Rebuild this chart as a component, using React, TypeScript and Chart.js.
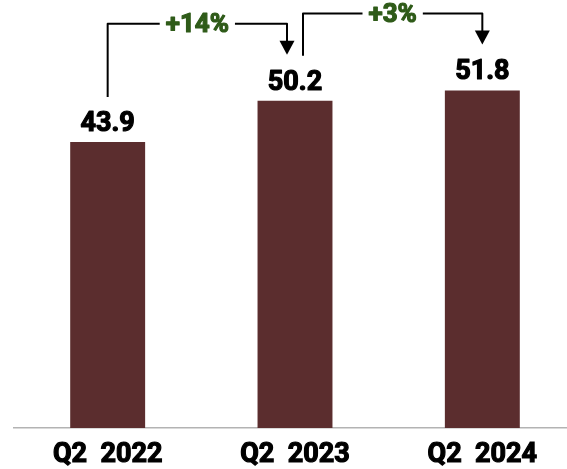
import React, { useEffect, useRef } from "react";
import { Chart, registerables } from "chart.js";

Chart.register(...registerables);

const categories = ["Q2  2022", "Q2  2023", "Q2  2024"];
const values = [43.9, 50.2, 51.8];

const BAR_COLOR = "#5b2d2e";
const GREEN = "#2f5b19";
const FONT = "Roboto, 'Liberation Sans', sans-serif";

const annotPlugin = {
  id: "annot",
  afterDraw(chart: any) {
    const ctx = chart.ctx as CanvasRenderingContext2D;
    const xs = chart.scales.x;
    const ys = chart.scales.y;
    const data = chart.data.datasets[0].data as number[];
    ctx.save();
    // value labels
    ctx.fillStyle = "#000";
    ctx.strokeStyle = "#000";
    ctx.lineWidth = 1.2;
    ctx.lineJoin = "round";
    ctx.font = `bold 27px ${FONT}`;
    ctx.textAlign = "center";
    ctx.textBaseline = "alphabetic";
    data.forEach((v, i) => {
      const x = xs.getPixelForValue(i);
      const y = ys.getPixelForValue(v);
      ctx.fillText(v.toFixed(1), x, y - 11);
      ctx.strokeText(v.toFixed(1), x, y - 11);
    });
    // brackets with growth
    for (let i = 0; i < data.length - 1; i++) {
      const x0 = xs.getPixelForValue(i) + (i > 0 ? 8 : 0);
      const x1 = xs.getPixelForValue(i + 1) - (i + 1 < data.length - 1 ? 8 : 0);
      const y0 = ys.getPixelForValue(data[i]) - 45;
      const yNext = ys.getPixelForValue(data[i + 1]);
      const yTop = yNext - 77;
      const yTip = yNext - 46;
      const pct = Math.round((data[i + 1] / data[i] - 1) * 100);
      const label = `+${pct}%`;
      ctx.font = `bold 26px ${FONT}`;
      const tw = ctx.measureText(label).width;
      const mid = (x0 + x1) / 2;
      ctx.strokeStyle = "#000";
      ctx.lineWidth = 2;
      ctx.beginPath();
      ctx.moveTo(x0, y0);
      ctx.lineTo(x0, yTop);
      ctx.lineTo(mid - tw / 2 - 6, yTop);
      ctx.moveTo(mid + tw / 2 + 6, yTop);
      ctx.lineTo(x1, yTop);
      ctx.lineTo(x1, yTip - 12);
      ctx.stroke();
      ctx.fillStyle = "#000";
      ctx.beginPath();
      ctx.moveTo(x1 - 7.5, yTip - 14);
      ctx.lineTo(x1 + 7.5, yTip - 14);
      ctx.lineTo(x1, yTip);
      ctx.closePath();
      ctx.fill();
      ctx.fillStyle = GREEN;
      ctx.strokeStyle = GREEN;
      ctx.lineWidth = 1.2;
      ctx.textAlign = "center";
      ctx.textBaseline = "middle";
      ctx.fillText(label, mid, yTop + 2);
      ctx.strokeText(label, mid, yTop + 2);
    }
    ctx.restore();
  },
};

export default function App() {
  const ref = useRef<HTMLCanvasElement>(null);
  useEffect(() => {
    if (!ref.current) return;
    const chart = new Chart(ref.current, {
      type: "bar",
      data: {
        labels: categories,
        datasets: [
          {
            data: values,
            backgroundColor: BAR_COLOR,
            categoryPercentage: 1,
            barPercentage: 0.4,
          },
        ],
      },
      options: {
        responsive: false,
        animation: false,
        devicePixelRatio: 1,
        layout: { padding: { top: 37, left: 14, right: 0, bottom: 0 } },
        plugins: { legend: { display: false }, tooltip: { enabled: false } },
        scales: {
          x: {
            grid: { display: false, drawTicks: false },
            border: { display: true, color: "#b3b3b3", width: 1.5 },
            afterFit: (scale: any) => {
              scale.height = 41;
            },
            ticks: {
              padding: 11,
              color: "#000",
              textStrokeColor: "#000",
              textStrokeWidth: 1.2,
              font: { family: FONT, size: 27, weight: "bold" },
            },
          },
          y: {
            display: false,
            min: 0,
            max: 60,
          },
        },
      },
      plugins: [annotPlugin],
    });
    return () => chart.destroy();
  }, []);
  return (
    <div style={{ position: "absolute", left: 0, top: 0, width: 567, height: 469, overflow: "hidden", background: "#fff" }}>
      <canvas ref={ref} width={576} height={469} style={{ display: "block" }} />
    </div>
  );
}
